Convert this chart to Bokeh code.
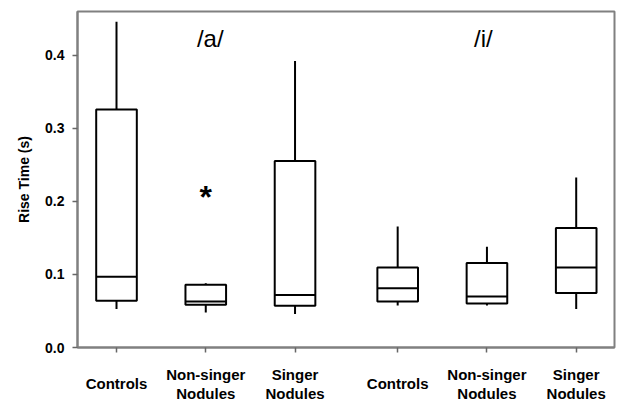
import numpy as np
from bokeh.plotting import figure
from bokeh.models import Range1d, FixedTicker, Label, ColumnDataSource, PrintfTickFormatter
from bokeh.core.properties import value
from bokeh.embed import file_html
from bokeh.resources import INLINE

# ---- data ----
categories = ["Controls", "Non-singer\nNodules", "Singer\nNodules",
              "Controls", "Non-singer\nNodules", "Singer\nNodules"]
x_pos = [1, 2, 3, 4.15, 5.15, 6.15]
whisker_low = [0.0525, 0.048, 0.0457, 0.0575, 0.0575, 0.0525]
q1 = [0.0639, 0.0584, 0.057, 0.063, 0.0602, 0.0744]
median = [0.0967, 0.0629, 0.0717, 0.0812, 0.0698, 0.1094]
q3 = [0.3256, 0.0858, 0.255, 0.1094, 0.1155, 0.1633]
whisker_high = [0.4456, 0.088, 0.392, 0.1655, 0.1377, 0.2326]
outlier_x = [2.0]
outlier_y = [0.21]
vowels = ["/a/", "/i/"]
vowel_x = [2.05, 5.11]
y_ticks = [0.0, 0.1, 0.2, 0.3, 0.4]

box_w = 0.455
FONT = "Liberation Sans"

p = figure(width=618, height=405, output_backend="svg", toolbar_location=None,
           x_range=Range1d(0.563, 6.579), y_range=Range1d(0, 0.4596),
           min_border_left=77, min_border_right=4, min_border_top=11, min_border_bottom=58)
p.xgrid.visible = False
p.ygrid.visible = False
p.background_fill_color = "white"
p.border_fill_color = "white"
p.outline_line_color = "#808080"
p.outline_line_width = 2

src = ColumnDataSource(dict(
    x=x_pos, lo=whisker_low, q1=q1, med=median, q3=q3, hi=whisker_high,
    left=[x - box_w / 2 for x in x_pos], right=[x + box_w / 2 for x in x_pos]))

p.segment(x0="x", y0="q3", x1="x", y1="hi", source=src, line_color="black", line_width=2)
p.segment(x0="x", y0="lo", x1="x", y1="q1", source=src, line_color="black", line_width=2)
p.quad(left="left", right="right", bottom="q1", top="q3", source=src,
       fill_color="white", line_color="black", line_width=2)
p.segment(x0="left", y0="med", x1="right", y1="med", source=src, line_color="black", line_width=2)
p.text(x=outlier_x, y=outlier_y, text=["*"] * len(outlier_x), text_align="center",
       text_baseline="alphabetic", y_offset=3, text_font=value(FONT),
       text_font_size="32px", text_font_style="bold", text_color="black")

for t, xv in zip(vowels, vowel_x):
    p.add_layout(Label(x=xv, y=0.4227, text=t, text_align="center", text_baseline="middle",
                       text_font=FONT, text_font_size="24px", text_color="black"))

# x axis: three-slot labels so single-line names sit centred between two-line ones
def slot_label(c):
    if "\n" in c:
        a, b = c.split("\n")
        return a + "\n\n" + b
    return "\n" + c + "\n"

p.xaxis.ticker = FixedTicker(ticks=x_pos)
p.xaxis.major_label_overrides = {xv: slot_label(c) for xv, c in zip(x_pos, categories)}
p.xaxis.major_label_text_font = FONT
p.xaxis.major_label_text_font_size = "15px"
p.xaxis.major_label_text_font_style = "bold"
p.xaxis.major_label_text_color = "black"
p.xaxis.major_label_text_line_height = 0.58
p.xaxis.major_label_standoff = 13
p.xaxis.axis_line_color = "#808080"
p.xaxis.axis_line_width = 2
p.xaxis.major_tick_line_color = "#666666"
p.xaxis.major_tick_line_width = 1.5
p.xaxis.major_tick_out = 5
p.xaxis.major_tick_in = 0
p.xaxis.minor_tick_line_color = None

# y axis
p.yaxis.ticker = FixedTicker(ticks=y_ticks)
p.yaxis.formatter = PrintfTickFormatter(format="%.1f")
p.yaxis.major_label_text_font = FONT
p.yaxis.major_label_text_font_size = "14px"
p.yaxis.major_label_text_font_style = "bold"
p.yaxis.major_label_text_color = "black"
p.yaxis.major_label_standoff = 8
p.yaxis.axis_line_color = "#808080"
p.yaxis.axis_line_width = 2
p.yaxis.major_tick_line_color = "#666666"
p.yaxis.major_tick_line_width = 1.5
p.yaxis.major_tick_out = 5
p.yaxis.major_tick_in = 0
p.yaxis.minor_tick_line_color = None
p.yaxis.axis_label = "Rise Time (s)"
p.yaxis.axis_label_text_font = FONT
p.yaxis.axis_label_text_font_size = "14px"
p.yaxis.axis_label_text_font_style = "bold"
p.yaxis.axis_label_text_color = "black"
p.yaxis.axis_label_standoff = 10

open("out.html", "w").write(file_html(p, INLINE))
